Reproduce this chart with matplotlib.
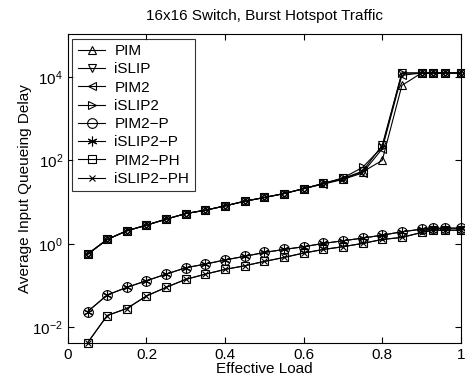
import matplotlib
matplotlib.use('Agg')
import matplotlib.pyplot as plt

plt.rcParams['font.family'] = ['Liberation Sans', 'DejaVu Sans']
plt.rcParams['mathtext.fontset'] = 'custom'
plt.rcParams['mathtext.rm'] = 'Liberation Sans'
plt.rcParams['mathtext.it'] = 'Liberation Sans'

# x-axis: effective load
load = [0.05, 0.1, 0.15, 0.2, 0.25, 0.3, 0.35, 0.4, 0.45, 0.5, 0.55, 0.6,
        0.65, 0.7, 0.75, 0.8, 0.85, 0.9, 0.93, 0.96, 1.0]

# upper group (no priority)
pim = [0.56, 1.27, 2.05, 2.8, 3.9, 5.3, 6.4, 8.1, 10.5, 12.9, 16, 21,
       28, 36, 53, 100, 6300, 12500, 12500, 12500, 12500]
islip = [0.56, 1.27, 2.05, 2.8, 3.9, 5.3, 6.4, 8.1, 10.5, 12.9, 16, 21,
         28, 37, 55, 230, 12500, 12500, 12500, 12500, 12500]
pim2 = [0.56, 1.27, 2.05, 2.8, 3.9, 5.3, 6.4, 8.1, 10.5, 12.9, 16, 21,
        27, 35, 50, 190, 11000, 12500, 12500, 12500, 12500]
islip2 = [0.56, 1.27, 2.05, 2.8, 3.9, 5.3, 6.4, 8.1, 10.5, 12.9, 16, 21,
          28, 38, 68, 210, 12500, 12500, 12500, 12500, 12500]

# priority variants
pim2_p = [0.0235, 0.059, 0.09, 0.13, 0.187, 0.266, 0.326, 0.41, 0.50, 0.62,
          0.73, 0.85, 1.02, 1.18, 1.37, 1.61, 1.94, 2.24, 2.33, 2.37, 2.37]
islip2_p = pim2_p
pim2_ph = [0.0042, 0.019, 0.028, 0.056, 0.09, 0.14, 0.187, 0.243, 0.297, 0.377,
           0.47, 0.6, 0.73, 0.85, 1.02, 1.27, 1.42, 1.87, 2.12, 2.12, 2.12]
islip2_ph = pim2_ph

# (6, 2, 0) = six-spoke asterisk, like MATLAB's '*'
series = [
    ('PIM', pim, '^', 6),
    ('iSLIP', islip, 'v', 6),
    ('PIM2', pim2, '<', 6),
    ('iSLIP2', islip2, '>', 6),
    ('PIM2\u2212P', pim2_p, 'o', 7),
    ('iSLIP2\u2212P', islip2_p, (6, 2, 0), 7),
    ('PIM2\u2212PH', pim2_ph, 's', 6),
    ('iSLIP2\u2212PH', islip2_ph, 'x', 5),
]

fig = plt.figure(figsize=(4.65, 3.79), dpi=100)
ax = fig.add_axes([0.146, 0.095, 0.845, 0.815])

for label, vals, mk, ms in series:
    ax.plot(load, vals, color='black', linewidth=0.8, marker=mk,
            markersize=ms, markerfacecolor='none', markeredgecolor='black',
            markeredgewidth=0.8, label=label, clip_on=False)

ax.set_yscale('log')
ax.set_xlim(0, 1)
ax.set_ylim(10 ** -2.38, 10 ** 5.03)
ax.set_xticks([0, 0.2, 0.4, 0.6, 0.8, 1])
ax.set_xticklabels(['0', '0.2', '0.4', '0.6', '0.8', '1'])
ax.set_yticks([1e-2, 1, 1e2, 1e4])
ax.set_yticklabels([r'$10^{-2}$', r'$10^{0}$', r'$10^{2}$', r'$10^{4}$'])
ax.minorticks_off()
ax.tick_params(direction='in', top=True, right=True, labelsize=11, length=4)

ax.set_title('16x16 Switch, Burst Hotspot Traffic', fontsize=11, pad=10)
ax.set_xlabel('Effective Load', fontsize=11, labelpad=0)
ax.set_ylabel('Average Input Queueing Delay', fontsize=11, labelpad=0)

leg = ax.legend(loc='upper left', fontsize=11, frameon=True, fancybox=False,
                edgecolor='black', borderaxespad=0.3, handlelength=1.8,
                labelspacing=0.28, borderpad=0.35, handletextpad=0.6)
leg.get_frame().set_linewidth(0.8)

fig.savefig('out.png', dpi=100)
